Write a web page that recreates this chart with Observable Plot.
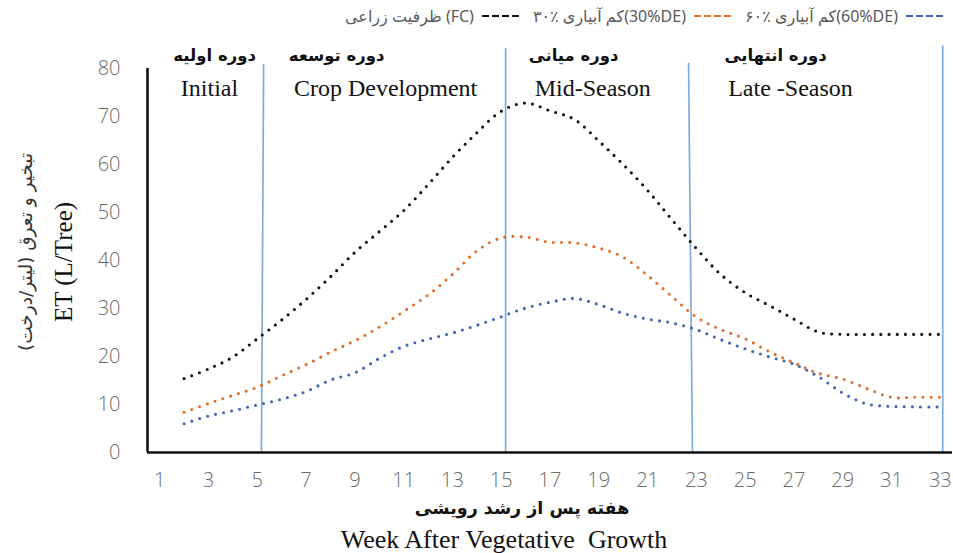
<!DOCTYPE html>
<html><head><meta charset="utf-8">
<script src="https://cdn.jsdelivr.net/npm/d3@7"></script>
<script src="https://cdn.jsdelivr.net/npm/@observablehq/plot@0.6"></script>
<style>
body{margin:0;background:#fff;}
#wrap{position:relative;width:953px;height:553px;overflow:hidden;background:#fff;}
#wrap > svg{position:absolute;left:0;top:0;}
#legend{position:absolute;top:5px;right:6px;display:flex;align-items:center;font-family:"Noto Sans","DejaVu Sans",sans-serif;font-size:16px;color:#595959;white-space:nowrap;direction:ltr;}
#legend .item{display:flex;align-items:center;margin-left:10px;}
#legend svg{position:static;margin-left:7px;}
.rot{position:absolute;transform:translate(-50%,-50%) rotate(-90deg);white-space:nowrap;}
.ctr{position:absolute;transform:translate(-50%,-50%);white-space:nowrap;}
</style></head>
<body><div id="wrap"></div>
<script>
// ---- data ----
const weeks = [2,3,4,5,6,7,8,9,10,11,12,13,14,15,16,17,18,19,20,21,22,23,24,25,26,27,28,29,30,31,32,33];
const fc   = [15.4,17.4,19.9,23.7,27.6,31.9,36.6,41.7,46.0,50.4,55.8,61.5,66.6,71.1,72.8,71.2,69.4,64.9,60.0,54.6,48.5,42.5,37.1,33.3,30.6,27.8,25.1,24.6,24.6,24.6,24.6,24.6];
const de30 = [8.4,10.2,11.9,13.6,16.0,18.3,20.9,23.3,26.1,29.4,32.8,37.1,42.0,44.7,44.9,43.8,43.7,42.6,40.7,36.9,32.5,28.2,25.6,23.7,21.0,18.7,16.5,15.3,13.3,11.5,11.5,11.5];
const de60 = [6.0,7.6,8.7,9.9,11.1,12.7,15.1,16.6,19.6,22.1,23.6,24.9,26.5,28.3,30.1,31.3,32.1,30.8,29.0,27.8,27.0,25.6,23.5,21.6,19.9,18.4,15.8,12.4,10.1,9.6,9.5,9.5];
const seriesNames = ["ظرفیت زراعی (FC)", "۳۰٪ کم آبیاری(30%DE)", "۶۰٪ کم آبیاری(60%DE)"];
const seriesColors = ["#111111", "#E0702A", "#3F65B5"];
const xTicks = [1,3,5,7,9,11,13,15,17,19,21,23,25,27,29,31,33];
const yTicks = [0,10,20,30,40,50,60,70,80];
// growth stage boundaries (week at bottom, week at top, top value)
const stageBottom = [5.17, 15.18, 22.84, 33.1];
const stageTop    = [5.26, 15.18, 22.68, 33.1];
const stageTopVal = [81.0, 84.2, 81.2, 84.8];
// growth stage labels
const stageFa = ["دوره اولیه", "دوره توسعه", "دوره میانی", "دوره انتهایی"];
const stageEn = ["Initial", "Crop Development", "Mid-Season", "Late -Season"];
const stageFaX = [3.25, 8.25, 17.97, 26.25];
const stageEnX = [3.04, 10.26, 18.75, 26.86];

const rows = (vals) => weeks.map((w, i) => ({week: w, value: vals[i]}));
const stages = stageBottom.map((b, i) => ({xb: b, xt: stageTop[i], top: stageTopVal[i]}));
const faLabels = stageFa.map((t, i) => ({t, x: stageFaX[i]}));
const enLabels = stageEn.map((t, i) => ({t, x: stageEnX[i]}));

const dotted = {x: "week", y: "value", curve: "catmull-rom", strokeWidth: 3.1, strokeDasharray: "0 8.2", strokeLinecap: "round"};

const chart = Plot.plot({
  width: 953, height: 553,
  marginLeft: 147, marginRight: 1, marginTop: 68, marginBottom: 101,
  x: {domain: [0.5, 33.5]},
  y: {domain: [0, 80]},
  style: {fontFamily: "'Open Sans', 'DejaVu Sans', sans-serif", color: "#6a6a6a", overflow: "visible", background: "transparent"},
  marks: [
    Plot.axisX({ticks: xTicks, tickSize: 0, tickPadding: 20, fontSize: 20, fontWeight: 300, label: null}),
    Plot.axisY({ticks: yTicks, tickSize: 0, tickPadding: 27, fontSize: 20, fontWeight: 300, label: null}),
    Plot.link(stages, {x1: "xb", y1: 0, x2: "xt", y2: "top", stroke: "#7BAEDF", strokeWidth: 1.7}),
    Plot.line(rows(fc), {...dotted, stroke: seriesColors[0]}),
    Plot.line(rows(de30), {...dotted, stroke: seriesColors[1]}),
    Plot.line(rows(de60), {...dotted, stroke: seriesColors[2]}),
    Plot.ruleY([0], {stroke: "#111", strokeWidth: 2.6}),
    Plot.ruleX([0.5], {y1: 0, y2: 80, stroke: "#111", strokeWidth: 2.6}),
    Plot.text(faLabels, {x: "x", y: 82.7, text: "t", fontFamily: "'DejaVu Sans', sans-serif", fontWeight: "bold", fontSize: 16.5, fill: "#111"}),
    Plot.text(enLabels, {x: "x", y: 75.8, text: "t", fontFamily: "'Liberation Serif', serif", fontSize: 24, fill: "#111"})
  ]
});

const wrap = document.getElementById("wrap");
wrap.appendChild(chart);

// legend
const legend = document.createElement("div");
legend.id = "legend";
seriesNames.forEach((name, i) => {
  const item = document.createElement("div");
  item.className = "item";
  const span = document.createElement("span");
  span.textContent = name;
  item.appendChild(span);
  const sw = document.createElementNS("http://www.w3.org/2000/svg", "svg");
  sw.setAttribute("width", 42); sw.setAttribute("height", 10);
  const ln = document.createElementNS("http://www.w3.org/2000/svg", "line");
  ln.setAttribute("x1", 1); ln.setAttribute("x2", 41); ln.setAttribute("y1", 5); ln.setAttribute("y2", 5);
  ln.setAttribute("stroke", seriesColors[i]); ln.setAttribute("stroke-width", 1.8);
  ln.setAttribute("stroke-dasharray", "7 3");
  sw.appendChild(ln);
  item.appendChild(sw);
  legend.appendChild(item);
});
wrap.appendChild(legend);

function addText(cls, txt, left, top, css) {
  const d = document.createElement("div");
  d.className = cls; d.textContent = txt;
  d.style.left = left + "px"; d.style.top = top + "px";
  Object.assign(d.style, css);
  wrap.appendChild(d);
}
addText("rot", "تبخیر و تعرق (لیتر/درخت)", 25, 252, {fontFamily: "'DejaVu Sans', sans-serif", fontSize: "18.5px", color: "#333"});
addText("rot", "ET (L/Tree)", 64, 262, {fontFamily: "'Liberation Serif', serif", fontSize: "25px", color: "#111"});
addText("ctr", "هفته پس از رشد رویشی", 522, 508, {fontFamily: "'DejaVu Sans', sans-serif", fontSize: "17.5px", fontWeight: "bold", color: "#111"});
addText("ctr", "Week After Vegetative  Growth", 504, 540, {fontFamily: "'Liberation Serif', serif", fontSize: "26px", color: "#111", whiteSpace: "pre"});
</script>
</body></html>
